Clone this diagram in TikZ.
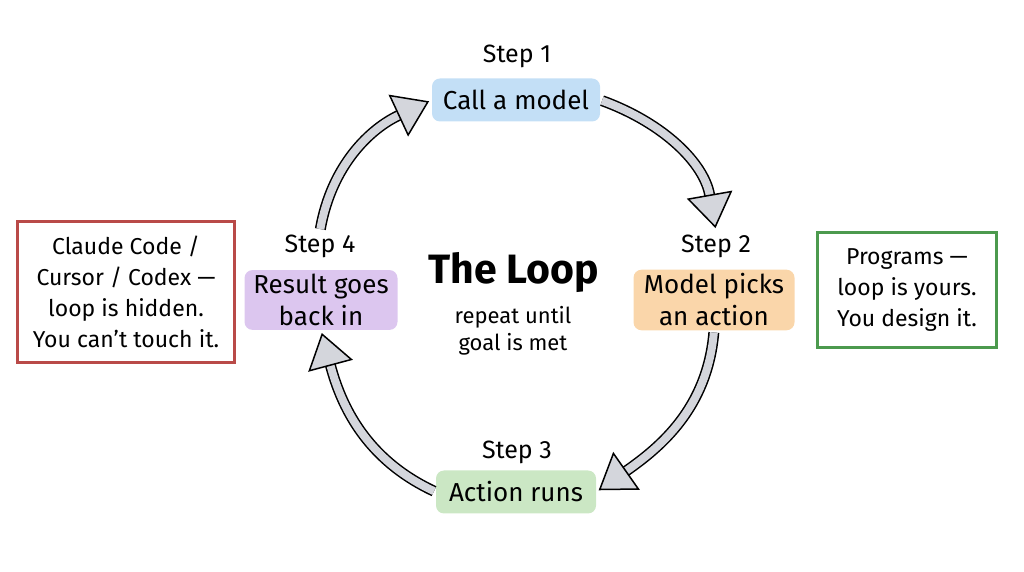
\documentclass[tikz,border=0pt]{standalone}
\usepackage{fontspec}
\setmainfont{Fira Sans}
\usetikzlibrary{positioning,arrows.meta}
\definecolor{LoopBlue}{HTML}{C3DFF6}
\definecolor{LoopOrange}{HTML}{FAD6AA}
\definecolor{LoopGreen}{HTML}{CBE7C4}
\definecolor{LoopPurple}{HTML}{DCC6EF}
\definecolor{NoteRed}{HTML}{B94A48}
\definecolor{NoteGreen}{HTML}{4C9A4E}
\definecolor{ArrowGray}{HTML}{D4D6DC}

\begin{document}
\begin{tikzpicture}[x=1pt,y=1pt,
    stepbox/.style={rounded corners=8pt,inner xsep=8pt,inner ysep=4pt,minimum height=43pt,
      align=center,font=\fontsize{26}{32}\selectfont},
    steplabel/.style={font=\fontsize{25}{28}\selectfont},
    notebox/.style={draw,line width=2.2pt,fill=white,align=center,font=\fontsize{23}{31}\selectfont},
    loopflow/.style={draw=black,line width=1.5pt,double=ArrowGray,double distance=8pt,
      shorten >=3pt,shorten <=2pt,-{Triangle[length=34pt,width=46pt,fill=ArrowGray]}}]
  \useasboundingbox (0,0) rectangle (1024,572);
  \node[stepbox,fill=LoopBlue,minimum width=168pt] (s1) at (516,472) {Call a model};
  \node[stepbox,fill=LoopOrange,minimum width=161pt] (s2) at (714,272) {Model picks\\an action};
  \node[stepbox,fill=LoopGreen,minimum width=160pt] (s3) at (516,80) {Action runs};
  \node[stepbox,fill=LoopPurple,minimum width=153pt] (s4) at (321,272) {Result goes\\back in};
  \node[steplabel] (l1) at (517,516) {Step 1};
  \node[steplabel] (l2) at (716,326) {Step 2};
  \node[steplabel] (l3) at (517,120) {Step 3};
  \node[steplabel] (l4) at (320,326) {Step 4};
  \node[font=\fontsize{41}{44}\selectfont\bfseries] (title) at (514,299) {The Loop};
  \node[align=center,font=\fontsize{22}{27}\selectfont] (sub) at (513,241) {repeat until\\goal is met};
  \node[notebox,draw=NoteRed,minimum width=217pt,minimum height=141pt] (hidden) at (126,280)
    {Claude Code /\\Cursor / Codex —\\loop is hidden.\\You can't touch it.};
  \node[notebox,draw=NoteGreen,minimum width=179pt,minimum height=115pt] (yours) at (907,282)
    {Programs —\\loop is yours.\\You design it.};
  \draw[loopflow] (l4.north) to[out=80,in=205] (s1.west);
  \draw[loopflow] (s1.east) to[out=-20,in=100] (l2.north);
  \draw[loopflow] (s2.south) to[out=-95,in=35] (s3.east);
  \draw[loopflow] (s3.west) to[out=155,in=-75] (s4.south);
\end{tikzpicture}
\end{document}
